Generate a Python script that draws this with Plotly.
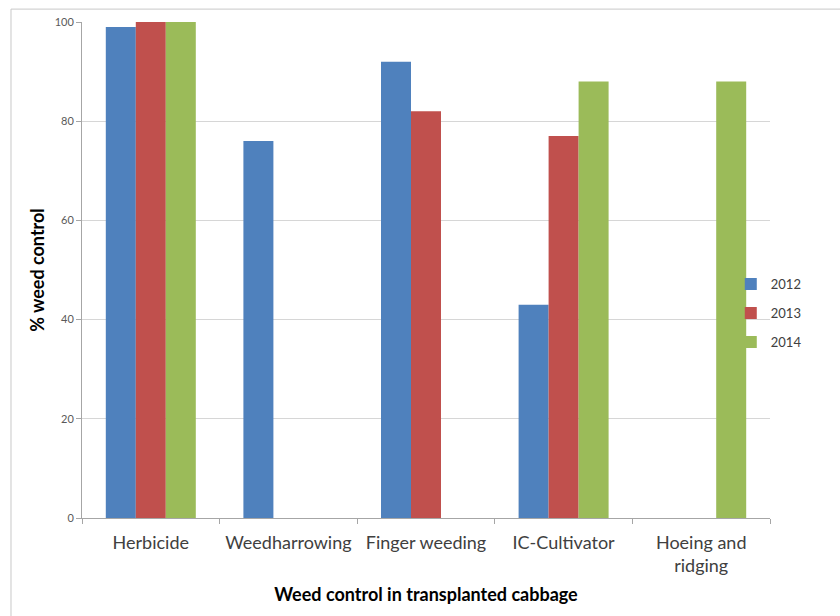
import plotly.graph_objects as go

categories = ["Herbicide", "Weedharrowing", "Finger weeding", "IC-Cultivator", "Hoeing and<br>ridging"]
years = ["2012", "2013", "2014"]
values_2012 = [99, 76, 92, 43, None]
values_2013 = [100, None, 82, 77, None]
values_2014 = [100, None, None, 88, 88]
colors = ["#4F81BD", "#C0504D", "#9BBB59"]

series = [values_2012, values_2013, values_2014]

fig = go.Figure()
for name, vals, col in zip(years, series, colors):
    fig.add_trace(go.Bar(
        x=categories, y=vals, name=name, legendgroup=name,
        marker=dict(color=col, line=dict(width=0)),
    ))

font_main = "Lato, 'Open Sans', sans-serif"

fig.update_layout(
    width=840, height=616,
    margin=dict(l=82, r=70, t=22, b=98),
    paper_bgcolor="white", plot_bgcolor="white",
    barmode="group", bargap=0.346, bargroupgap=0,
    font=dict(family=font_main, color="#404040"),
    showlegend=True,
    legend=dict(
        x=0.943, y=0.413, xanchor="left", yanchor="middle",
        font=dict(size=13, color="#404040"),
        itemwidth=30, tracegroupgap=9, traceorder="grouped",
        bgcolor="rgba(0,0,0,0)",
    ),
    xaxis=dict(
        showgrid=False, showline=True, linecolor="#A6A6A6", linewidth=1,
        ticks="outside", tickson="boundaries", ticklen=5, tickcolor="#A6A6A6",
        tickfont=dict(size=18, color="#404040"),
        ticklabelstandoff=8,
        title=dict(text="<b>Weed control in transplanted cabbage</b>",
                   font=dict(size=18, color="#000000"), standoff=13),
    ),
    yaxis=dict(
        range=[0, 100], dtick=20, showgrid=True, gridcolor="#D6D6D6", gridwidth=1,
        showline=True, linecolor="#A6A6A6", linewidth=1,
        ticks="outside", ticklen=5, tickcolor="#A6A6A6",
        tickfont=dict(size=11, color="#595959"),
        zeroline=False,
        title=dict(text="<b>% weed control</b>", font=dict(size=18, color="#000000"), standoff=5),
    ),
)

# Outer chart-area frame
fig.add_shape(
    type="rect", xref="paper", yref="paper",
    x0=-0.1032, x1=1.2, y0=-0.3, y1=1.026,
    line=dict(color="#C8C8C8", width=1), fillcolor="rgba(0,0,0,0)", layer="below",
)

fig.write_html("out.html")
